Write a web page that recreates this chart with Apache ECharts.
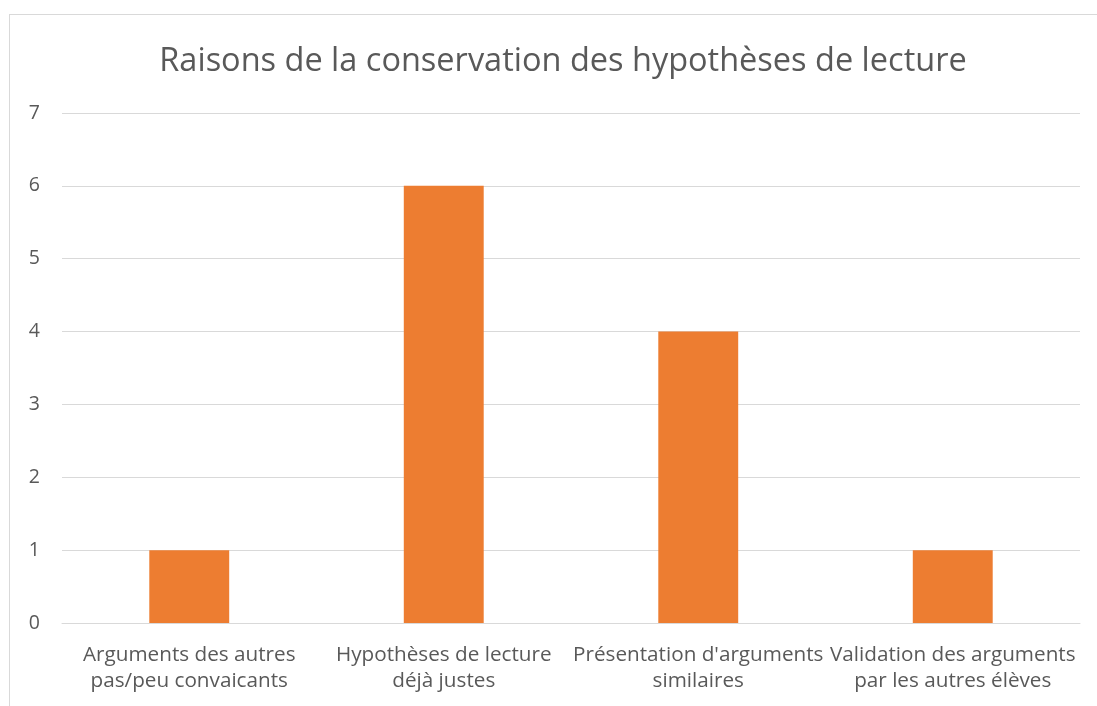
<!DOCTYPE html>
<html><head><meta charset="utf-8">
<script src="https://cdn.jsdelivr.net/npm/echarts@6/dist/echarts.min.js"></script>
<style>
html,body{margin:0;padding:0;background:#fff;overflow:hidden;}
#frame{position:absolute;left:9px;top:14px;width:1200px;height:800px;border:1px solid #d9d9d9;box-sizing:border-box;}
#chart{position:absolute;left:0;top:0;width:1097px;height:706px;}
</style></head>
<body>
<div id="frame"></div>
<div id="chart"></div>
<script>
const categories = [
  "Arguments des autres\npas/peu convaicants",
  "Hypothèses de lecture\ndéjà justes",
  "Présentation d'arguments\nsimilaires",
  "Validation des arguments\npar les autres élèves"
];
const values = [1, 6, 4, 1];
const yTicks = { min: 0, max: 7, interval: 1 };
const titleText = "Raisons de la conservation des hypothèses de lecture";

const chart = echarts.init(document.getElementById('chart'));
chart.setOption({
  animation: false,
  title: {
    text: titleText,
    left: 558, top: 40, textAlign: 'center',
    textStyle: { fontFamily: 'Open Sans', fontSize: 32.5, fontWeight: 'normal', color: '#595959' }
  },
  grid: { left: 62, right: 17, top: 113, bottom: 83, containLabel: false },
  xAxis: {
    type: 'category', data: categories,
    axisLine: { lineStyle: { color: '#d9d9d9', width: 1 } },
    axisTick: { show: false },
    axisLabel: { interval: 0, color: '#595959', fontFamily: 'Open Sans', fontSize: 20.7, lineHeight: 26, margin: 19 }
  },
  yAxis: {
    type: 'value', min: yTicks.min, max: yTicks.max, interval: yTicks.interval,
    axisLine: { show: false }, axisTick: { show: false },
    splitLine: { lineStyle: { color: '#d9d9d9', width: 1 } },
    axisLabel: { color: '#595959', fontFamily: 'Open Sans', fontSize: 19.5, margin: 22 }
  },
  series: [{
    type: 'bar', data: values, barWidth: '31.4%',
    itemStyle: { color: '#ED7D31' }
  }]
});
</script>
</body></html>
